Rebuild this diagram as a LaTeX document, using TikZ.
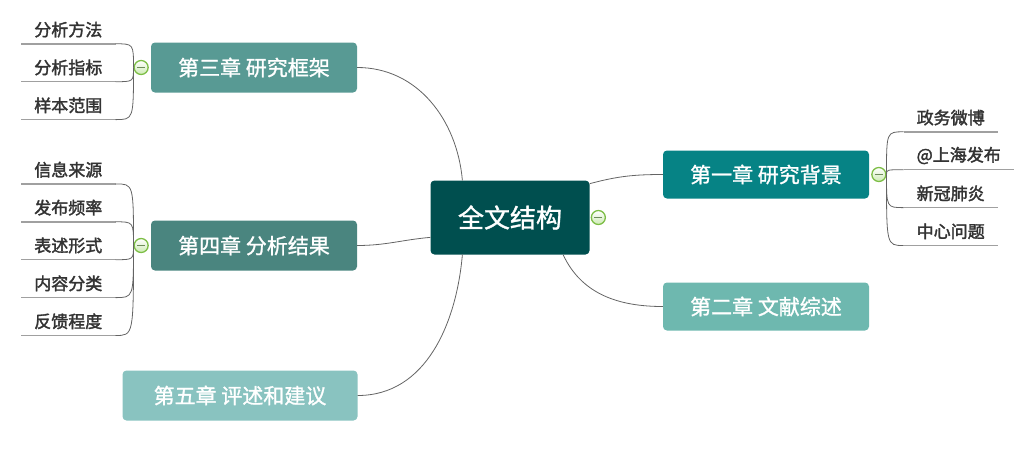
\documentclass[tikz,border=0pt]{standalone}
\usepackage{fontspec}
\newfontfamily\cjk{Noto Sans CJK SC}[FakeBold=1.2]
\newfontfamily\cjkleaf{Noto Sans CJK SC}[FakeBold=2]
\usepackage{tikz}
\usetikzlibrary{positioning}
\definecolor{rootcol}{RGB}{0,79,79}
\definecolor{chone}{RGB}{6,131,133}
\definecolor{chtwo}{RGB}{110,184,175}
\definecolor{chthree}{RGB}{88,154,148}
\definecolor{chfour}{RGB}{74,133,127}
\definecolor{chfive}{RGB}{137,195,192}
\definecolor{leaftext}{RGB}{51,51,51}
\definecolor{leafline}{RGB}{160,160,160}
\definecolor{conn}{RGB}{100,100,100}
\definecolor{foldgreen}{RGB}{125,190,70}
\definecolor{foldfill}{RGB}{205,235,180}
\definecolor{folddash}{RGB}{110,140,90}

\begin{document}
\begin{tikzpicture}[x=1pt,y=-1pt]
  \tikzstyle{chap}=[rounded corners=4pt,text=white,inner sep=0pt,
                    font=\cjk\fontsize{21}{25}\selectfont,
                    minimum width=206pt,minimum height=50pt]
  \tikzstyle{leaf}=[font=\cjkleaf\fontsize{17}{20}\selectfont,text=leaftext,
                    inner xsep=13pt,inner ysep=0pt,minimum height=28pt,
                    append after command={(\tikzlastnode.south west)
                      edge[draw=leafline,line width=1.5pt] (\tikzlastnode.south east)}]
  \tikzstyle{fold}=[circle,draw=foldgreen,line width=1.3pt,minimum size=14pt,
                    inner sep=0pt,top color=white,bottom color=foldfill,
                    path picture={\draw[folddash,line width=1.6pt]
                      ([xshift=-4pt]path picture bounding box.center) --
                      ([xshift=4pt]path picture bounding box.center);}]
  \tikzstyle{branch}=[draw=conn,line width=0.8pt]
  \tikzstyle{twig}=[draw=conn,line width=0.8pt,
                    to path={.. controls (\tikztostart |- \tikztotarget) .. (\tikztotarget)}]

  \useasboundingbox (0,0) rectangle (1028,448);

  % chapters
  \node[chap,fill=rootcol,minimum width=159pt,minimum height=74pt,
        font=\cjk\fontsize{26}{30}\selectfont] (root) at (510,217.5) {全文结构};
  \node[chap,fill=chone,minimum height=48pt]   (ch1) at (766,174.5) {第一章 研究背景};
  \node[chap,fill=chtwo,minimum height=48pt]   (ch2) at (766,306.5) {第二章 文献综述};
  \node[chap,fill=chthree]                     (ch3) at (254,67.5)  {第三章 研究框架};
  \node[chap,fill=chfour]                      (ch4) at (254,245.5) {第四章 分析结果};
  \node[chap,fill=chfive,minimum width=235pt]  (ch5) at (240,395.5) {第五章 评述和建议};

  \node[fold] (f0) [right=1pt of root] {};
  \node[fold] (f1) [right=2pt of ch1]  {};
  \node[fold] (f3) [left=2pt of ch3]   {};
  \node[fold] (f4) [left=2pt of ch4]   {};

  % leaves of chapter one
  \node[leaf] (l12) [right=17pt of f1,yshift=19pt] {@上海发布};
  \node[leaf] (l11) [above=9.5pt of l12.north west,anchor=south west] {政务微博};
  \node[leaf] (l13) [below=9.5pt of l12.south west,anchor=north west] {新冠肺炎};
  \node[leaf] (l14) [below=9.5pt of l13.south west,anchor=north west] {中心问题};

  % leaves of chapter three
  \node[leaf] (l32) [left=18pt of f3]   {分析指标};
  \node[leaf] (l31) [above=9.5pt of l32] {分析方法};
  \node[leaf] (l33) [below=9.5pt of l32] {样本范围};

  % leaves of chapter four
  \node[leaf] (l43) [left=18pt of f4]   {表述形式};
  \node[leaf] (l42) [above=9.5pt of l43] {发布频率};
  \node[leaf] (l41) [above=9.5pt of l42] {信息来源};
  \node[leaf] (l44) [below=9.5pt of l43] {内容分类};
  \node[leaf] (l45) [below=9.5pt of l44] {反馈程度};

  \path (root.23)  edge[branch,out=15,in=180]   (ch1.west)
        (root.-35) edge[branch,out=-65,in=180]  (ch2.west)
        (root.142) edge[branch,out=95,in=0]     (ch3.east)
        (root.194) edge[branch,out=185,in=0]    (ch4.east)
        (root.218) edge[branch,out=-95,in=0]    (ch5.east);

  \path (f1.east) edge[twig] (l11.south west)
                  edge[twig] (l12.south west)
                  edge[twig] (l13.south west)
                  edge[twig] (l14.south west)
        (f3.west) edge[twig] (l31.south east)
                  edge[twig] (l32.south east)
                  edge[twig] (l33.south east)
        (f4.west) edge[twig] (l41.south east)
                  edge[twig] (l42.south east)
                  edge[twig] (l43.south east)
                  edge[twig] (l44.south east)
                  edge[twig] (l45.south east);
\end{tikzpicture}
\end{document}
